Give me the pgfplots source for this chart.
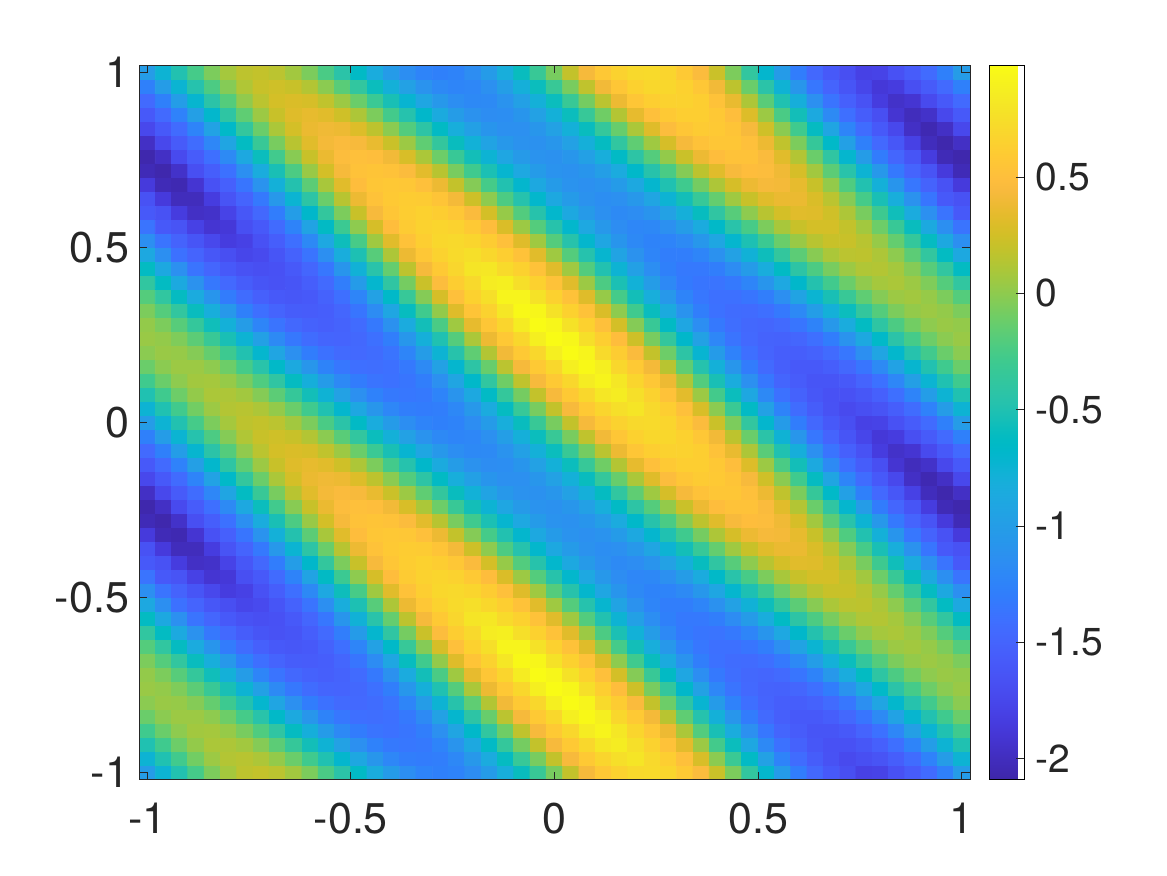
\documentclass[border=0pt]{standalone}
\usepackage{pgfplots}
\usepackage{fontspec}
\setmainfont{TeX Gyre Heros}
\pgfplotsset{compat=1.18}
\definecolor{axisgray}{rgb}{0.15,0.15,0.15}
\pgfplotsset{colormap={parula}{
rgb=(.2422,.1504,.6603) rgb=(.2504,.1650,.7076) rgb=(.2578,.1818,.7511) rgb=(.2647,.1978,.7952)
rgb=(.2706,.2147,.8364) rgb=(.2751,.2342,.8710) rgb=(.2783,.2559,.8991) rgb=(.2803,.2782,.9221)
rgb=(.2813,.3006,.9414) rgb=(.2810,.3228,.9579) rgb=(.2795,.3447,.9717) rgb=(.2760,.3667,.9829)
rgb=(.2699,.3892,.9906) rgb=(.2602,.4123,.9952) rgb=(.2440,.4358,.9988) rgb=(.2206,.4603,.9973)
rgb=(.1963,.4847,.9892) rgb=(.1834,.5074,.9798) rgb=(.1786,.5289,.9682) rgb=(.1764,.5499,.9520)
rgb=(.1687,.5703,.9359) rgb=(.1540,.5902,.9218) rgb=(.1460,.6091,.9079) rgb=(.1380,.6276,.8973)
rgb=(.1248,.6459,.8883) rgb=(.1113,.6635,.8763) rgb=(.0952,.6798,.8598) rgb=(.0689,.6948,.8394)
rgb=(.0297,.7082,.8163) rgb=(.0036,.7203,.7917) rgb=(.0067,.7312,.7660) rgb=(.0433,.7411,.7394)
rgb=(.0964,.7500,.7120) rgb=(.1408,.7584,.6842) rgb=(.1717,.7670,.6554) rgb=(.1938,.7758,.6251)
rgb=(.2161,.7843,.5923) rgb=(.2470,.7918,.5567) rgb=(.2906,.7973,.5188) rgb=(.3406,.8008,.4789)
rgb=(.3909,.8029,.4354) rgb=(.4456,.8024,.3909) rgb=(.5044,.7993,.3480) rgb=(.5616,.7942,.3045)
rgb=(.6174,.7876,.2612) rgb=(.6720,.7793,.2227) rgb=(.7242,.7698,.1910) rgb=(.7738,.7598,.1646)
rgb=(.8203,.7498,.1535) rgb=(.8634,.7406,.1596) rgb=(.9035,.7330,.1774) rgb=(.9393,.7288,.2100)
rgb=(.9728,.7298,.2394) rgb=(.9956,.7434,.2371) rgb=(.9970,.7659,.2199) rgb=(.9952,.7893,.2028)
rgb=(.9892,.8136,.1885) rgb=(.9786,.8386,.1766) rgb=(.9676,.8639,.1643) rgb=(.9610,.8890,.1537)
rgb=(.9597,.9135,.1423) rgb=(.9628,.9373,.1265) rgb=(.9691,.9606,.1064) rgb=(.9769,.9839,.0805)
}}
\newcommand{\ticksize}{\fontsize{21.5}{24}\selectfont}
\newcommand{\barsize}{\fontsize{19.5}{22}\selectfont}
\begin{document}
\begin{tikzpicture}
\useasboundingbox (0,0) rectangle (583.5pt,437.5pt);
\begin{axis}[
    at={(69.5pt,47.75pt)}, anchor=south west,
    scale only axis, width=415.5pt, height=357pt,
    xmin=-1.02, xmax=1.02, ymin=-1.02, ymax=1.02,
    xtick={-1,-0.5,0,0.5,1}, ytick={-1,-0.5,0,0.5,1},
    xticklabels={-1,-0.5,0,0.5,1}, yticklabels={-1,-0.5,0,0.5,1},
    tick align=inside, major tick length=4pt,
    axis line style={axisgray, line width=0.5pt},
    every tick/.style={axisgray, line width=0.5pt},
    tick label style={font=\ticksize, text=axisgray},
    xticklabel style={yshift=-8pt},
    yticklabel style={xshift=-1.5pt},
    enlargelimits=false, axis on top,
    point meta min=-2.09, point meta max=0.98,
    colormap name=parula,
    colorbar,
    colorbar shift/.style={xshift=4.5pt},
    colorbar style={
        width=17.5pt,
        ytick={-2,-1.5,-1,-0.5,0,0.5},
        yticklabels={-2,-1.5,-1,-0.5,0,0.5},
        ytick pos=right, yticklabel pos=right,
        tick align=inside, major tick length=4pt,
        yticklabel style={font=\barsize, text=axisgray, xshift=2pt},
    },
]
% one value per line, one block per grid row from y=-1 up to y=1, x from -1 to 1
\addplot[matrix plot*, mesh/cols=51, point meta=explicit]
  table[header=false, x expr={-1+0.04*mod(\coordindex,51)}, y expr={-1+0.04*floor((\coordindex+0.5)/51)}, meta index=0] {
-1.01
-0.75
-0.49
-0.26
-0.06
0.08
0.17
0.19
0.16
0.07
-0.06
-0.24
-0.44
-0.64
-0.84
-1.02
-1.15
-1.24
-1.27
-1.25
-1.16
-1.02
-0.82
-0.59
-0.33
-0.07
0.19
0.43
0.58
0.66
0.71
0.72
0.68
0.59
0.47
0.22
-0.06
-0.38
-0.70
-1.02
-1.30
-1.47
-1.59
-1.68
-1.80
-1.78
-1.66
-1.57
-1.44
-1.27
-1.01

-0.75
-0.50
-0.28
-0.09
0.05
0.13
0.15
0.11
0.02
-0.12
-0.29
-0.50
-0.70
-0.90
-1.07
-1.21
-1.29
-1.31
-1.29
-1.20
-1.05
-0.85
-0.61
-0.34
-0.07
0.19
0.44
0.59
0.68
0.76
0.80
0.71
0.63
0.51
0.28
-0.01
-0.32
-0.64
-0.96
-1.25
-1.43
-1.56
-1.65
-1.72
-1.68
-1.64
-1.55
-1.43
-1.26
-1.01
-0.75

-0.50
-0.29
-0.11
0.02
0.10
0.11
0.07
-0.03
-0.17
-0.35
-0.55
-0.76
-0.96
-1.13
-1.26
-1.33
-1.35
-1.33
-1.24
-1.09
-0.88
-0.64
-0.36
-0.08
0.19
0.44
0.59
0.70
0.82
0.86
0.76
0.66
0.53
0.33
0.05
-0.27
-0.58
-0.90
-1.19
-1.39
-1.52
-1.61
-1.66
-1.66
-1.61
-1.53
-1.41
-1.24
-1.00
-0.75
-0.50

-0.29
-0.12
0
0.07
0.08
0.03
-0.07
-0.22
-0.40
-0.61
-0.81
-1.02
-1.19
-1.31
-1.37
-1.39
-1.36
-1.29
-1.13
-0.92
-0.67
-0.39
-0.10
0.18
0.44
0.59
0.70
0.86
0.92
0.82
0.68
0.57
0.38
0.10
-0.21
-0.53
-0.84
-1.13
-1.35
-1.49
-1.57
-1.63
-1.63
-1.59
-1.50
-1.39
-1.21
-0.98
-0.74
-0.50
-0.29

-0.12
-0.01
0.05
0.05
0
-0.11
-0.26
-0.45
-0.66
-0.87
-1.07
-1.25
-1.35
-1.41
-1.42
-1.40
-1.33
-1.18
-0.96
-0.71
-0.42
-0.13
0.16
0.43
0.59
0.70
0.88
0.96
0.88
0.70
0.59
0.42
0.15
-0.16
-0.47
-0.79
-1.07
-1.31
-1.45
-1.54
-1.59
-1.59
-1.55
-1.47
-1.36
-1.18
-0.95
-0.72
-0.49
-0.29
-0.12

-0.01
0.04
0.03
-0.03
-0.14
-0.30
-0.49
-0.71
-0.92
-1.13
-1.30
-1.39
-1.45
-1.46
-1.43
-1.37
-1.23
-1.01
-0.75
-0.46
-0.16
0.13
0.41
0.59
0.70
0.88
0.98
0.92
0.72
0.61
0.46
0.19
-0.11
-0.42
-0.73
-1.02
-1.26
-1.41
-1.50
-1.55
-1.55
-1.52
-1.44
-1.35
-1.14
-0.92
-0.69
-0.47
-0.28
-0.12
-0.01

0.04
0.02
-0.05
-0.17
-0.33
-0.53
-0.75
-0.97
-1.18
-1.34
-1.43
-1.49
-1.50
-1.47
-1.40
-1.29
-1.06
-0.80
-0.50
-0.20
0.10
0.38
0.58
0.70
0.88
0.98
0.94
0.76
0.63
0.49
0.23
-0.07
-0.37
-0.68
-0.96
-1.21
-1.37
-1.46
-1.51
-1.52
-1.48
-1.41
-1.30
-1.10
-0.88
-0.66
-0.44
-0.26
-0.11
-0.01
0.04

0.02
-0.06
-0.19
-0.36
-0.56
-0.79
-1.01
-1.23
-1.37
-1.47
-1.52
-1.54
-1.51
-1.44
-1.33
-1.12
-0.85
-0.55
-0.24
0.06
0.35
0.56
0.68
0.86
0.98
0.94
0.78
0.65
0.51
0.26
-0.03
-0.33
-0.63
-0.91
-1.15
-1.33
-1.42
-1.47
-1.48
-1.45
-1.36
-1.25
-1.05
-0.84
-0.62
-0.41
-0.23
-0.09
0
0.04
0.02

-0.06
-0.20
-0.38
-0.59
-0.82
-1.05
-1.27
-1.41
-1.50
-1.56
-1.57
-1.55
-1.48
-1.36
-1.17
-0.91
-0.60
-0.29
0.02
0.31
0.55
0.66
0.82
0.96
0.94
0.78
0.65
0.53
0.29
0
-0.29
-0.59
-0.86
-1.10
-1.29
-1.39
-1.43
-1.44
-1.41
-1.33
-1.19
-1.00
-0.79
-0.58
-0.37
-0.20
-0.06
0.02
0.05
0.02
-0.06

-0.20
-0.39
-0.61
-0.85
-1.08
-1.31
-1.43
-1.53
-1.59
-1.61
-1.59
-1.52
-1.41
-1.23
-0.96
-0.66
-0.34
-0.03
0.27
0.51
0.65
0.76
0.92
0.92
0.78
0.65
0.53
0.31
0.03
-0.26
-0.55
-0.82
-1.05
-1.24
-1.35
-1.40
-1.40
-1.36
-1.29
-1.14
-0.94
-0.74
-0.53
-0.33
-0.16
-0.03
0.05
0.07
0.03
-0.06
-0.20

-0.39
-0.62
-0.87
-1.11
-1.34
-1.46
-1.56
-1.63
-1.65
-1.63
-1.55
-1.45
-1.29
-1.02
-0.71
-0.40
-0.08
0.22
0.48
0.62
0.71
0.86
0.88
0.76
0.65
0.53
0.32
0.05
-0.23
-0.52
-0.78
-1.01
-1.19
-1.32
-1.36
-1.37
-1.33
-1.23
-1.08
-0.89
-0.68
-0.48
-0.28
-0.12
0.01
0.08
0.10
0.05
-0.05
-0.20
-0.39

-0.62
-0.88
-1.13
-1.37
-1.48
-1.59
-1.65
-1.68
-1.66
-1.59
-1.48
-1.35
-1.08
-0.77
-0.45
-0.14
0.17
0.43
0.59
0.69
0.80
0.82
0.72
0.65
0.53
0.32
0.06
-0.21
-0.49
-0.75
-0.97
-1.15
-1.27
-1.33
-1.33
-1.29
-1.17
-1.02
-0.83
-0.63
-0.42
-0.23
-0.07
0.05
0.12
0.13
0.08
-0.03
-0.19
-0.39
-0.62

-0.88
-1.14
-1.39
-1.50
-1.61
-1.68
-1.76
-1.72
-1.63
-1.52
-1.37
-1.14
-0.83
-0.51
-0.19
0.11
0.38
0.57
0.66
0.72
0.76
0.70
0.63
0.53
0.32
0.06
-0.20
-0.47
-0.72
-0.94
-1.11
-1.23
-1.29
-1.29
-1.23
-1.12
-0.96
-0.77
-0.57
-0.37
-0.17
-0.02
0.10
0.16
0.17
0.11
0
-0.17
-0.38
-0.62
-0.88

-1.14
-1.37
-1.51
-1.63
-1.74
-1.84
-1.80
-1.66
-1.55
-1.41
-1.19
-0.89
-0.57
-0.25
0.06
0.32
0.53
0.63
0.70
0.71
0.68
0.61
0.51
0.31
0.06
-0.20
-0.46
-0.70
-0.91
-1.08
-1.19
-1.25
-1.24
-1.18
-1.06
-0.91
-0.71
-0.51
-0.31
-0.12
0.04
0.15
0.21
0.21
0.15
0.03
-0.14
-0.36
-0.61
-0.88
-1.14

-1.37
-1.59
-1.64
-1.80
-1.91
-1.88
-1.68
-1.59
-1.44
-1.25
-0.94
-0.63
-0.31
0
0.27
0.49
0.60
0.66
0.68
0.66
0.59
0.49
0.29
0.05
-0.20
-0.46
-0.69
-0.89
-1.05
-1.16
-1.21
-1.20
-1.13
-1.01
-0.85
-0.66
-0.45
-0.25
-0.06
0.09
0.21
0.26
0.26
0.19
0.07
-0.11
-0.33
-0.59
-0.87
-1.14
-1.37

-1.59
-1.65
-1.84
-1.97
-1.95
-1.78
-1.61
-1.47
-1.30
-1.00
-0.68
-0.37
-0.06
0.21
0.44
0.56
0.62
0.65
0.62
0.57
0.46
0.26
0.03
-0.21
-0.46
-0.69
-0.88
-1.03
-1.13
-1.18
-1.16
-1.09
-0.96
-0.80
-0.60
-0.40
-0.19
0
0.15
0.26
0.32
0.31
0.24
0.11
-0.07
-0.30
-0.56
-0.85
-1.13
-1.37
-1.59

-1.65
-1.86
-2.01
-2.01
-1.84
-1.64
-1.50
-1.33
-1.05
-0.74
-0.42
-0.12
0.15
0.38
0.53
0.59
0.61
0.60
0.55
0.42
0.23
0
-0.23
-0.47
-0.69
-0.88
-1.02
-1.11
-1.15
-1.13
-1.05
-0.92
-0.75
-0.55
-0.34
-0.14
0.06
0.21
0.32
0.37
0.37
0.29
0.16
-0.03
-0.26
-0.53
-0.82
-1.11
-1.36
-1.59
-1.65

-1.86
-2.03
-2.05
-1.91
-1.66
-1.53
-1.36
-1.10
-0.79
-0.48
-0.17
0.09
0.32
0.49
0.56
0.58
0.57
0.51
0.38
0.19
-0.03
-0.26
-0.49
-0.70
-0.88
-1.02
-1.10
-1.13
-1.10
-1.02
-0.88
-0.71
-0.50
-0.29
-0.08
0.11
0.27
0.38
0.43
0.42
0.35
0.21
0.02
-0.22
-0.49
-0.79
-1.08
-1.35
-1.51
-1.65
-1.86

-2.03
-2.07
-1.95
-1.68
-1.55
-1.39
-1.14
-0.84
-0.53
-0.23
0.04
0.26
0.43
0.53
0.55
0.53
0.47
0.33
0.15
-0.07
-0.29
-0.52
-0.72
-0.89
-1.02
-1.10
-1.12
-1.08
-0.99
-0.85
-0.67
-0.46
-0.24
-0.03
0.17
0.32
0.44
0.49
0.48
0.40
0.27
0.07
-0.17
-0.45
-0.75
-1.05
-1.33
-1.50
-1.64
-1.86
-2.03

-2.07
-1.97
-1.72
-1.57
-1.41
-1.18
-0.88
-0.58
-0.28
-0.02
0.21
0.37
0.48
0.51
0.50
0.41
0.28
0.10
-0.11
-0.33
-0.55
-0.75
-0.91
-1.03
-1.10
-1.12
-1.07
-0.97
-0.82
-0.64
-0.42
-0.20
0.02
0.22
0.38
0.49
0.53
0.53
0.46
0.32
0.13
-0.12
-0.40
-0.71
-1.01
-1.31
-1.48
-1.63
-1.84
-2.03
-2.07

-1.97
-1.74
-1.58
-1.43
-1.21
-0.92
-0.62
-0.33
-0.07
0.15
0.32
0.42
0.46
0.44
0.36
0.22
0.05
-0.16
-0.37
-0.59
-0.78
-0.94
-1.05
-1.11
-1.12
-1.07
-0.96
-0.80
-0.61
-0.39
-0.16
0.06
0.27
0.43
0.53
0.56
0.56
0.51
0.38
0.18
-0.06
-0.35
-0.66
-0.97
-1.27
-1.46
-1.61
-1.80
-2.01
-2.07
-1.97

-1.74
-1.59
-1.44
-1.24
-0.95
-0.66
-0.37
-0.12
0.10
0.26
0.37
0.40
0.38
0.30
0.17
-0.01
-0.21
-0.42
-0.63
-0.82
-0.97
-1.08
-1.13
-1.13
-1.07
-0.96
-0.79
-0.59
-0.36
-0.13
0.10
0.31
0.48
0.56
0.60
0.59
0.55
0.44
0.24
-0.01
-0.29
-0.61
-0.92
-1.23
-1.43
-1.59
-1.74
-1.97
-2.05
-1.97
-1.74

-1.59
-1.45
-1.26
-0.98
-0.69
-0.41
-0.16
0.05
0.21
0.31
0.35
0.32
0.24
0.11
-0.06
-0.27
-0.47
-0.68
-0.86
-1.01
-1.11
-1.16
-1.15
-1.08
-0.96
-0.79
-0.58
-0.34
-0.10
0.13
0.35
0.51
0.59
0.63
0.63
0.58
0.50
0.30
0.05
-0.24
-0.55
-0.87
-1.18
-1.41
-1.56
-1.68
-1.91
-2.01
-1.95
-1.74
-1.59

-1.45
-1.27
-1.00
-0.72
-0.44
-0.20
0.01
0.16
0.26
0.29
0.27
0.18
0.05
-0.12
-0.32
-0.53
-0.73
-0.91
-1.05
-1.15
-1.19
-1.18
-1.10
-0.97
-0.79
-0.58
-0.33
-0.08
0.16
0.38
0.56
0.63
0.66
0.66
0.63
0.53
0.36
0.11
-0.18
-0.50
-0.81
-1.13
-1.37
-1.53
-1.65
-1.84
-1.95
-1.91
-1.72
-1.59
-1.45

-1.27
-1.01
-0.74
-0.47
-0.23
-0.03
0.12
0.21
0.24
0.21
0.13
-0.01
-0.18
-0.38
-0.58
-0.79
-0.96
-1.10
-1.19
-1.23
-1.21
-1.13
-0.99
-0.80
-0.58
-0.33
-0.07
0.18
0.41
0.56
0.65
0.70
0.70
0.65
0.57
0.41
0.17
-0.12
-0.44
-0.76
-1.07
-1.35
-1.50
-1.63
-1.76
-1.88
-1.84
-1.68
-1.58
-1.45
-1.27

-1.01
-0.75
-0.49
-0.26
-0.06
0.08
0.17
0.19
0.16
0.07
-0.06
-0.24
-0.44
-0.64
-0.84
-1.02
-1.15
-1.24
-1.27
-1.25
-1.16
-1.02
-0.82
-0.59
-0.33
-0.07
0.19
0.43
0.58
0.66
0.71
0.72
0.68
0.59
0.47
0.22
-0.06
-0.38
-0.70
-1.02
-1.30
-1.47
-1.59
-1.68
-1.80
-1.78
-1.66
-1.57
-1.44
-1.27
-1.01

-0.75
-0.50
-0.28
-0.09
0.05
0.13
0.15
0.11
0.02
-0.12
-0.29
-0.50
-0.70
-0.90
-1.07
-1.21
-1.29
-1.31
-1.29
-1.20
-1.05
-0.85
-0.61
-0.34
-0.07
0.19
0.44
0.59
0.68
0.76
0.80
0.71
0.63
0.51
0.28
-0.01
-0.32
-0.64
-0.96
-1.25
-1.43
-1.56
-1.65
-1.72
-1.68
-1.64
-1.55
-1.43
-1.26
-1.01
-0.75

-0.50
-0.29
-0.11
0.02
0.10
0.11
0.07
-0.03
-0.17
-0.35
-0.55
-0.76
-0.96
-1.13
-1.26
-1.33
-1.35
-1.33
-1.24
-1.09
-0.88
-0.64
-0.36
-0.08
0.19
0.44
0.59
0.70
0.82
0.86
0.76
0.66
0.53
0.33
0.05
-0.27
-0.58
-0.90
-1.19
-1.39
-1.52
-1.61
-1.66
-1.66
-1.61
-1.53
-1.41
-1.24
-1.00
-0.75
-0.50

-0.29
-0.12
0
0.07
0.08
0.03
-0.07
-0.22
-0.40
-0.61
-0.81
-1.02
-1.19
-1.31
-1.37
-1.39
-1.36
-1.29
-1.13
-0.92
-0.67
-0.39
-0.10
0.18
0.44
0.59
0.70
0.86
0.92
0.82
0.68
0.57
0.38
0.10
-0.21
-0.53
-0.84
-1.13
-1.35
-1.49
-1.57
-1.63
-1.63
-1.59
-1.50
-1.39
-1.21
-0.98
-0.74
-0.50
-0.29

-0.12
-0.01
0.05
0.05
0
-0.11
-0.26
-0.45
-0.66
-0.87
-1.07
-1.25
-1.35
-1.41
-1.42
-1.40
-1.33
-1.18
-0.96
-0.71
-0.42
-0.13
0.16
0.43
0.59
0.70
0.88
0.96
0.88
0.70
0.59
0.42
0.15
-0.16
-0.47
-0.79
-1.07
-1.31
-1.45
-1.54
-1.59
-1.59
-1.55
-1.47
-1.36
-1.18
-0.95
-0.72
-0.49
-0.29
-0.12

-0.01
0.04
0.03
-0.03
-0.14
-0.30
-0.49
-0.71
-0.92
-1.13
-1.30
-1.39
-1.45
-1.46
-1.43
-1.37
-1.23
-1.01
-0.75
-0.46
-0.16
0.13
0.41
0.59
0.70
0.88
0.98
0.92
0.72
0.61
0.46
0.19
-0.11
-0.42
-0.73
-1.02
-1.26
-1.41
-1.50
-1.55
-1.55
-1.52
-1.44
-1.35
-1.14
-0.92
-0.69
-0.47
-0.28
-0.12
-0.01

0.04
0.02
-0.05
-0.17
-0.33
-0.53
-0.75
-0.97
-1.18
-1.34
-1.43
-1.49
-1.50
-1.47
-1.40
-1.29
-1.06
-0.80
-0.50
-0.20
0.10
0.38
0.58
0.70
0.88
0.98
0.94
0.76
0.63
0.49
0.23
-0.07
-0.37
-0.68
-0.96
-1.21
-1.37
-1.46
-1.51
-1.52
-1.48
-1.41
-1.30
-1.10
-0.88
-0.66
-0.44
-0.26
-0.11
-0.01
0.04

0.02
-0.06
-0.19
-0.36
-0.56
-0.79
-1.01
-1.23
-1.37
-1.47
-1.52
-1.54
-1.51
-1.44
-1.33
-1.12
-0.85
-0.55
-0.24
0.06
0.35
0.56
0.68
0.86
0.98
0.94
0.78
0.65
0.51
0.26
-0.03
-0.33
-0.63
-0.91
-1.15
-1.33
-1.42
-1.47
-1.48
-1.45
-1.36
-1.25
-1.05
-0.84
-0.62
-0.41
-0.23
-0.09
0
0.04
0.02

-0.06
-0.20
-0.38
-0.59
-0.82
-1.05
-1.27
-1.41
-1.50
-1.56
-1.57
-1.55
-1.48
-1.36
-1.17
-0.91
-0.60
-0.29
0.02
0.31
0.55
0.66
0.82
0.96
0.94
0.78
0.65
0.53
0.29
0
-0.29
-0.59
-0.86
-1.10
-1.29
-1.39
-1.43
-1.44
-1.41
-1.33
-1.19
-1.00
-0.79
-0.58
-0.37
-0.20
-0.06
0.02
0.05
0.02
-0.06

-0.20
-0.39
-0.61
-0.85
-1.08
-1.31
-1.43
-1.53
-1.59
-1.61
-1.59
-1.52
-1.41
-1.23
-0.96
-0.66
-0.34
-0.03
0.27
0.51
0.65
0.76
0.92
0.92
0.78
0.65
0.53
0.31
0.03
-0.26
-0.55
-0.82
-1.05
-1.24
-1.35
-1.40
-1.40
-1.36
-1.29
-1.14
-0.94
-0.74
-0.53
-0.33
-0.16
-0.03
0.05
0.07
0.03
-0.06
-0.20

-0.39
-0.62
-0.87
-1.11
-1.34
-1.46
-1.56
-1.63
-1.65
-1.63
-1.55
-1.45
-1.29
-1.02
-0.71
-0.40
-0.08
0.22
0.48
0.62
0.71
0.86
0.88
0.76
0.65
0.53
0.32
0.05
-0.23
-0.52
-0.78
-1.01
-1.19
-1.32
-1.36
-1.37
-1.33
-1.23
-1.08
-0.89
-0.68
-0.48
-0.28
-0.12
0.01
0.08
0.10
0.05
-0.05
-0.20
-0.39

-0.62
-0.88
-1.13
-1.37
-1.48
-1.59
-1.65
-1.68
-1.66
-1.59
-1.48
-1.35
-1.08
-0.77
-0.45
-0.14
0.17
0.43
0.59
0.69
0.80
0.82
0.72
0.65
0.53
0.32
0.06
-0.21
-0.49
-0.75
-0.97
-1.15
-1.27
-1.33
-1.33
-1.29
-1.17
-1.02
-0.83
-0.63
-0.42
-0.23
-0.07
0.05
0.12
0.13
0.08
-0.03
-0.19
-0.39
-0.62

-0.88
-1.14
-1.39
-1.50
-1.61
-1.68
-1.76
-1.72
-1.63
-1.52
-1.37
-1.14
-0.83
-0.51
-0.19
0.11
0.38
0.57
0.66
0.72
0.76
0.70
0.63
0.53
0.32
0.06
-0.20
-0.47
-0.72
-0.94
-1.11
-1.23
-1.29
-1.29
-1.23
-1.12
-0.96
-0.77
-0.57
-0.37
-0.17
-0.02
0.10
0.16
0.17
0.11
0
-0.17
-0.38
-0.62
-0.88

-1.14
-1.37
-1.51
-1.63
-1.74
-1.84
-1.80
-1.66
-1.55
-1.41
-1.19
-0.89
-0.57
-0.25
0.06
0.32
0.53
0.63
0.70
0.71
0.68
0.61
0.51
0.31
0.06
-0.20
-0.46
-0.70
-0.91
-1.08
-1.19
-1.25
-1.24
-1.18
-1.06
-0.91
-0.71
-0.51
-0.31
-0.12
0.04
0.15
0.21
0.21
0.15
0.03
-0.14
-0.36
-0.61
-0.88
-1.14

-1.37
-1.59
-1.64
-1.80
-1.91
-1.88
-1.68
-1.59
-1.44
-1.25
-0.94
-0.63
-0.31
0
0.27
0.49
0.60
0.66
0.68
0.66
0.59
0.49
0.29
0.05
-0.20
-0.46
-0.69
-0.89
-1.05
-1.16
-1.21
-1.20
-1.13
-1.01
-0.85
-0.66
-0.45
-0.25
-0.06
0.09
0.21
0.26
0.26
0.19
0.07
-0.11
-0.33
-0.59
-0.87
-1.14
-1.37

-1.59
-1.65
-1.84
-1.97
-1.95
-1.78
-1.61
-1.47
-1.30
-1.00
-0.68
-0.37
-0.06
0.21
0.44
0.56
0.62
0.65
0.62
0.57
0.46
0.26
0.03
-0.21
-0.46
-0.69
-0.88
-1.03
-1.13
-1.18
-1.16
-1.09
-0.96
-0.80
-0.60
-0.40
-0.19
0
0.15
0.26
0.32
0.31
0.24
0.11
-0.07
-0.30
-0.56
-0.85
-1.13
-1.37
-1.59

-1.65
-1.86
-2.01
-2.01
-1.84
-1.64
-1.50
-1.33
-1.05
-0.74
-0.42
-0.12
0.15
0.38
0.53
0.59
0.61
0.60
0.55
0.42
0.23
0
-0.23
-0.47
-0.69
-0.88
-1.02
-1.11
-1.15
-1.13
-1.05
-0.92
-0.75
-0.55
-0.34
-0.14
0.06
0.21
0.32
0.37
0.37
0.29
0.16
-0.03
-0.26
-0.53
-0.82
-1.11
-1.36
-1.59
-1.65

-1.86
-2.03
-2.05
-1.91
-1.66
-1.53
-1.36
-1.10
-0.79
-0.48
-0.17
0.09
0.32
0.49
0.56
0.58
0.57
0.51
0.38
0.19
-0.03
-0.26
-0.49
-0.70
-0.88
-1.02
-1.10
-1.13
-1.10
-1.02
-0.88
-0.71
-0.50
-0.29
-0.08
0.11
0.27
0.38
0.43
0.42
0.35
0.21
0.02
-0.22
-0.49
-0.79
-1.08
-1.35
-1.51
-1.65
-1.86

-2.03
-2.07
-1.95
-1.68
-1.55
-1.39
-1.14
-0.84
-0.53
-0.23
0.04
0.26
0.43
0.53
0.55
0.53
0.47
0.33
0.15
-0.07
-0.29
-0.52
-0.72
-0.89
-1.02
-1.10
-1.12
-1.08
-0.99
-0.85
-0.67
-0.46
-0.24
-0.03
0.17
0.32
0.44
0.49
0.48
0.40
0.27
0.07
-0.17
-0.45
-0.75
-1.05
-1.33
-1.50
-1.64
-1.86
-2.03

-2.07
-1.97
-1.72
-1.57
-1.41
-1.18
-0.88
-0.58
-0.28
-0.02
0.21
0.37
0.48
0.51
0.50
0.41
0.28
0.10
-0.11
-0.33
-0.55
-0.75
-0.91
-1.03
-1.10
-1.12
-1.07
-0.97
-0.82
-0.64
-0.42
-0.20
0.02
0.22
0.38
0.49
0.53
0.53
0.46
0.32
0.13
-0.12
-0.40
-0.71
-1.01
-1.31
-1.48
-1.63
-1.84
-2.03
-2.07

-1.97
-1.74
-1.58
-1.43
-1.21
-0.92
-0.62
-0.33
-0.07
0.15
0.32
0.42
0.46
0.44
0.36
0.22
0.05
-0.16
-0.37
-0.59
-0.78
-0.94
-1.05
-1.11
-1.12
-1.07
-0.96
-0.80
-0.61
-0.39
-0.16
0.06
0.27
0.43
0.53
0.56
0.56
0.51
0.38
0.18
-0.06
-0.35
-0.66
-0.97
-1.27
-1.46
-1.61
-1.80
-2.01
-2.07
-1.97

-1.74
-1.59
-1.44
-1.24
-0.95
-0.66
-0.37
-0.12
0.10
0.26
0.37
0.40
0.38
0.30
0.17
-0.01
-0.21
-0.42
-0.63
-0.82
-0.97
-1.08
-1.13
-1.13
-1.07
-0.96
-0.79
-0.59
-0.36
-0.13
0.10
0.31
0.48
0.56
0.60
0.59
0.55
0.44
0.24
-0.01
-0.29
-0.61
-0.92
-1.23
-1.43
-1.59
-1.74
-1.97
-2.05
-1.97
-1.74

-1.59
-1.45
-1.26
-0.98
-0.69
-0.41
-0.16
0.05
0.21
0.31
0.35
0.32
0.24
0.11
-0.06
-0.27
-0.47
-0.68
-0.86
-1.01
-1.11
-1.16
-1.15
-1.08
-0.96
-0.79
-0.58
-0.34
-0.10
0.13
0.35
0.51
0.59
0.63
0.63
0.58
0.50
0.30
0.05
-0.24
-0.55
-0.87
-1.18
-1.41
-1.56
-1.68
-1.91
-2.01
-1.95
-1.74
-1.59

-1.45
-1.27
-1.00
-0.72
-0.44
-0.20
0.01
0.16
0.26
0.29
0.27
0.18
0.05
-0.12
-0.32
-0.53
-0.73
-0.91
-1.05
-1.15
-1.19
-1.18
-1.10
-0.97
-0.79
-0.58
-0.33
-0.08
0.16
0.38
0.56
0.63
0.66
0.66
0.63
0.53
0.36
0.11
-0.18
-0.50
-0.81
-1.13
-1.37
-1.53
-1.65
-1.84
-1.95
-1.91
-1.72
-1.59
-1.45

-1.27
-1.01
-0.74
-0.47
-0.23
-0.03
0.12
0.21
0.24
0.21
0.13
-0.01
-0.18
-0.38
-0.58
-0.79
-0.96
-1.10
-1.19
-1.23
-1.21
-1.13
-0.99
-0.80
-0.58
-0.33
-0.07
0.18
0.41
0.56
0.65
0.70
0.70
0.65
0.57
0.41
0.17
-0.12
-0.44
-0.76
-1.07
-1.35
-1.50
-1.63
-1.76
-1.88
-1.84
-1.68
-1.58
-1.45
-1.27

-1.01
-0.75
-0.49
-0.26
-0.06
0.08
0.17
0.19
0.16
0.07
-0.06
-0.24
-0.44
-0.64
-0.84
-1.02
-1.15
-1.24
-1.27
-1.25
-1.16
-1.02
-0.82
-0.59
-0.33
-0.07
0.19
0.43
0.58
0.66
0.71
0.72
0.68
0.59
0.47
0.22
-0.06
-0.38
-0.70
-1.02
-1.30
-1.47
-1.59
-1.68
-1.80
-1.78
-1.66
-1.57
-1.44
-1.27
-1.01
};
\end{axis}
\end{tikzpicture}
\end{document}
